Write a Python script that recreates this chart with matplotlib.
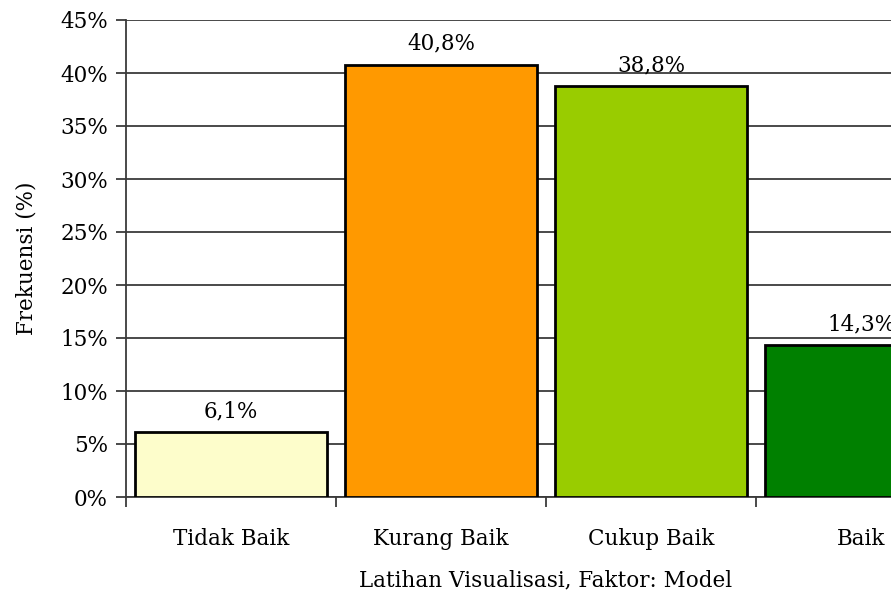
import numpy as np
import matplotlib.pyplot as plt

# data
categories = ['Tidak Baik', 'Kurang Baik', 'Cukup Baik', 'Baik']
values = [6.1, 40.8, 38.8, 14.3]
colors = ['#FDFDCB', '#FF9900', '#99CC00', '#008000']

plt.rcParams['font.family'] = ['DejaVu Serif']

fig = plt.figure(figsize=(8.91, 5.94), dpi=100)
# axes runs past the right edge, like the cropped original
ax = fig.add_axes([126 / 891, 97 / 594, 840 / 891, 477 / 594])

x = np.arange(len(categories))
bars = ax.bar(x, values, width=0.91, color=colors, edgecolor='black', linewidth=2, zorder=3)

for b, v in zip(bars, values):
    ax.annotate(f'{v:.1f}%'.replace('.', ','), (b.get_x() + b.get_width() / 2, v),
                xytext=(0, 7), textcoords='offset points', ha='center', va='bottom', fontsize=15.5)

ax.set_xlim(-0.5, 3.5)
ax.set_ylim(0, 45)
ax.set_yticks(np.arange(0, 46, 5))
ax.set_yticklabels([f'{t}%' for t in range(0, 46, 5)], fontsize=15.5)
ax.yaxis.grid(True, color='#3a3a3a', linewidth=1.3, zorder=0)
ax.tick_params(axis='y', length=7, width=1.3, color='#3a3a3a', pad=6)

ax.set_xticks(x)
ax.set_xticklabels(categories, fontsize=15.5)
ax.set_xticks(np.arange(-0.5, 4, 1), minor=True)
ax.tick_params(axis='x', which='major', length=0, pad=22)
ax.tick_params(axis='x', which='minor', length=7, width=1.3, color='#3a3a3a')

for s in ['top', 'right']:
    ax.spines[s].set_visible(False)
for s in ['left', 'bottom']:
    ax.spines[s].set_color('#3a3a3a')
    ax.spines[s].set_linewidth(1.3)

ax.set_xlabel('Latihan Visualisasi, Faktor: Model', fontsize=15.5, labelpad=14)
ax.set_ylabel('Frekuensi (%)', fontsize=15.5, labelpad=16)

fig.savefig('out.png', dpi=100)
